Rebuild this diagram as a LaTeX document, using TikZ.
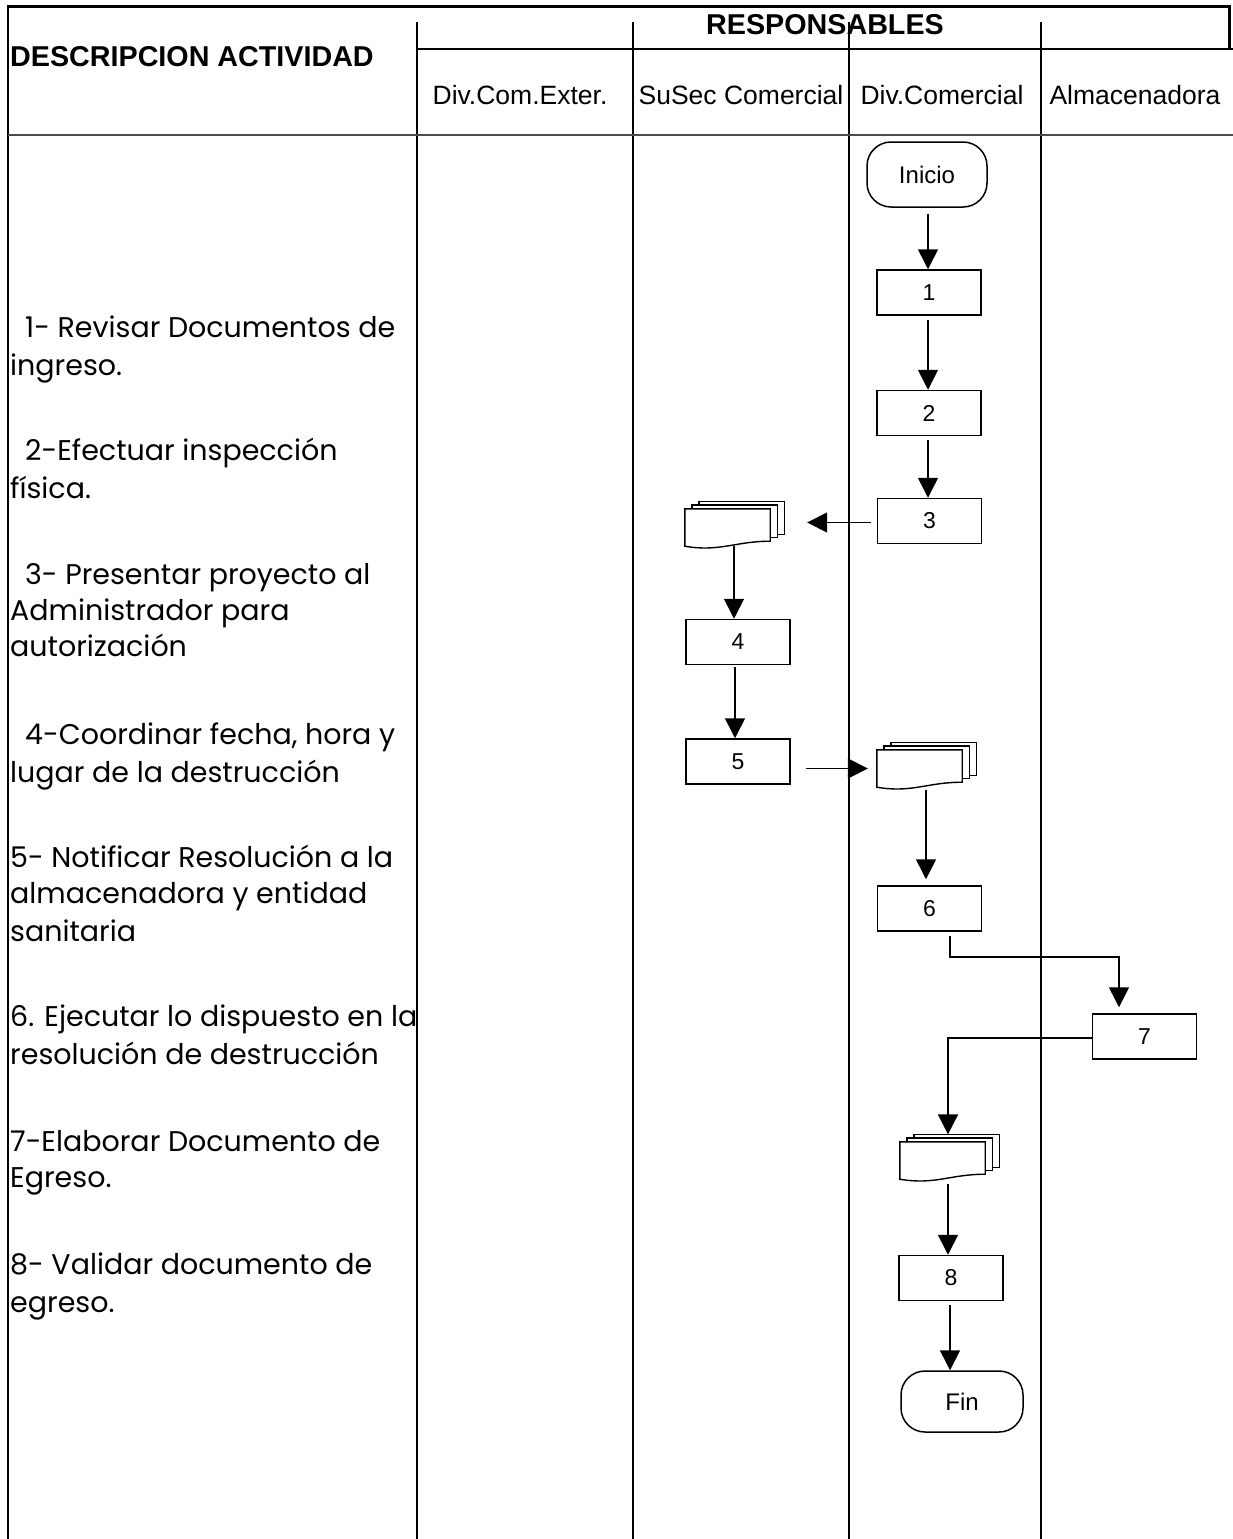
\documentclass[tikz,border=0pt]{standalone}
\usepackage{fontspec}
\setmainfont{Liberation Sans}
\newfontfamily\descfont{Poppins}
\usetikzlibrary{arrows.meta}

% stacked multi-document symbol drawn around an invisible node
\newcommand{\docstack}[1]{%
  \draw[docline] ([shift={(14pt,7.4pt)}]#1.north west) rectangle ([shift={(14pt,12pt)}]#1.south east);
  \draw[docline] ([shift={(7pt,3.7pt)}]#1.north west) rectangle ([shift={(7pt,9pt)}]#1.south east);
  \draw[docline] (#1.north west) -- (#1.north east) -- ([yshift=5pt]#1.south east)
    .. controls ([shift={(-35pt,5pt)}]#1.south east) and ([shift={(35pt,-6pt)}]#1.south west) .. (#1.south west) -- cycle;
}

\begin{document}
\begin{tikzpicture}[x=1pt,y=-1pt,
  tline/.style={line width=1.8pt},
  box/.style={draw, line width=1.5pt, minimum width=104pt, minimum height=45pt,
    inner sep=0pt, font=\fontsize{23}{27}\selectfont},
  term/.style={draw, line width=1.5pt, rounded corners=24pt, inner sep=0pt,
    font=\fontsize{24}{28}\selectfont},
  docnode/.style={minimum width=85pt, minimum height=37pt, inner sep=0pt},
  docline/.style={line width=1.4pt, fill=white},
  arr/.style={line width=1.6pt, -{Triangle[length=20pt,width=20pt]}},
  desc/.style={anchor=base west, inner sep=0pt, font=\descfont\fontsize{28.5}{32}\selectfont},
  hdr/.style={inner sep=0pt, font=\fontsize{26.5}{30}\selectfont},
  ttl/.style={inner sep=0pt, font=\bfseries\fontsize{28.7}{32}\selectfont},
  ]
\useasboundingbox (0,0) rectangle (1233,1539);

% ---- table frame ----
\draw[line width=3pt] (7,6) -- (1229,6) -- (1229,49);
\draw[line width=2.2pt] (8,6) -- (8,1539);
\foreach \cx in {417,633,849,1041} \draw[tline] (\cx,22) -- (\cx,1539);
\draw[tline] (417,49) -- (1233,49);
\draw[line width=2.2pt, gray!60!black] (8,135) -- (1233,135);

% ---- headings ----
\node[ttl, anchor=west] (tdesc) at (10,57) {DESCRIPCION ACTIVIDAD};
\node[ttl] (tresp) at (825,25) {RESPONSABLES};
\node[hdr] (h1) at (520,95) {Div.Com.Exter.};
\node[hdr] (h2) at (741,95) {SuSec Comercial};
\node[hdr] (h3) at (942,95) {Div.Comercial};
\node[hdr] (h4) at (1135,95) {Almacenadora};

% ---- activity descriptions ----
\node[desc] (a1a) at (25,337) {1- Revisar Documentos de};
\node[desc] (a1b) at (10,375) {ingreso.};
\node[desc] (a2a) at (25,460) {2-Efectuar inspección};
\node[desc] (a2b) at (10,498) {física.};
\node[desc] (a3a) at (25,584) {3- Presentar proyecto al};
\node[desc] (a3b) at (10,620) {Administrador para};
\node[desc] (a3c) at (10,656) {autorización};
\node[desc] (a4a) at (25,744) {4-Coordinar fecha, hora y};
\node[desc] (a4b) at (10,782) {lugar de la destrucción};
\node[desc] (a5a) at (10,867) {5- Notificar Resolución a la};
\node[desc] (a5b) at (10,903) {almacenadora y entidad};
\node[desc] (a5c) at (10,941) {sanitaria};
\node[desc] (a6a) at (10,1026) {6. Ejecutar lo dispuesto en la};
\node[desc] (a6b) at (10,1064) {resolución de destrucción};
\node[desc] (a7a) at (10,1151) {7-Elaborar Documento de};
\node[desc] (a7b) at (10,1187) {Egreso.};
\node[desc] (a8a) at (10,1274) {8- Validar documento de};
\node[desc] (a8b) at (10,1312) {egreso.};

% ---- flow symbols ----
\node[term, minimum width=120pt, minimum height=65pt] (ini) at (927,174.5) {Inicio};
\node[box] (b1) at (929,292.5) {1};
\node[box] (b2) at (929,413) {2};
\node[box] (b3) at (929.5,521) {3};
\node[docnode] (d1) at (727.5,527.5) {};
\docstack{d1}
\node[box] (b4) at (738,642) {4};
\node[box] (b5) at (738,761.5) {5};
\node[docnode] (d2) at (919.5,768.5) {};
\docstack{d2}
\node[box] (b6) at (929.5,908.5) {6};
\node[box] (b7) at (1144.5,1036.5) {7};
\node[docnode] (d3) at (942.5,1160.5) {};
\docstack{d3}
\node[box] (b8) at (951,1278) {8};
\node[term, minimum width=122pt, minimum height=61pt] (fin) at (962,1401.5) {Fin};

% ---- connectors ----
\draw[arr, shorten <=6pt] ([xshift=1pt]ini.south) -- ([xshift=1pt]ini.south |- b1.north);
\draw[arr, shorten <=4pt] ([xshift=-1pt]b1.south) -- ([xshift=-1pt]b1.south |- b2.north);
\draw[arr, shorten <=4pt] ([xshift=-1pt]b2.south) -- ([xshift=-1pt]b2.south |- b3.north);
\draw[arr, shorten >=37pt] ([xshift=-6pt,yshift=-1.5pt]b3.west) -- ([yshift=-1.5pt]b3.west -| d1.east);
\draw[arr] ([xshift=6.5pt]d1.south) -- ([xshift=6.5pt]d1.south |- b4.north);
\draw[arr, shorten <=2pt] ([xshift=-3pt]b4.south) -- ([xshift=-3pt]b4.south |- b5.north);
\draw[arr, shorten <=15pt, shorten >=9pt] (b5.east |- d2.west) -- (d2.west);
\draw[arr, shorten <=3pt, shorten >=6pt] ([xshift=6.5pt]d2.south) -- ([xshift=6.5pt]d2.south |- b6.north);
\draw[arr, shorten <=4pt, shorten >=6pt] ([xshift=20.5pt]b6.south) -- ++(0,25) -| ([xshift=-25.5pt]b7.north);
\draw[arr] ([yshift=-1.5pt]b7.west) -| ([shift={(5.5pt,7.4pt)}]d3.north);
\draw[arr, shorten <=5pt] ([xshift=5.5pt]d3.south) -- ([xshift=5.5pt]d3.south |- b8.north);
\draw[arr, shorten <=4pt] ([xshift=-1pt]b8.south) -- ([xshift=-1pt]b8.south |- fin.north);
\end{tikzpicture}
\end{document}
